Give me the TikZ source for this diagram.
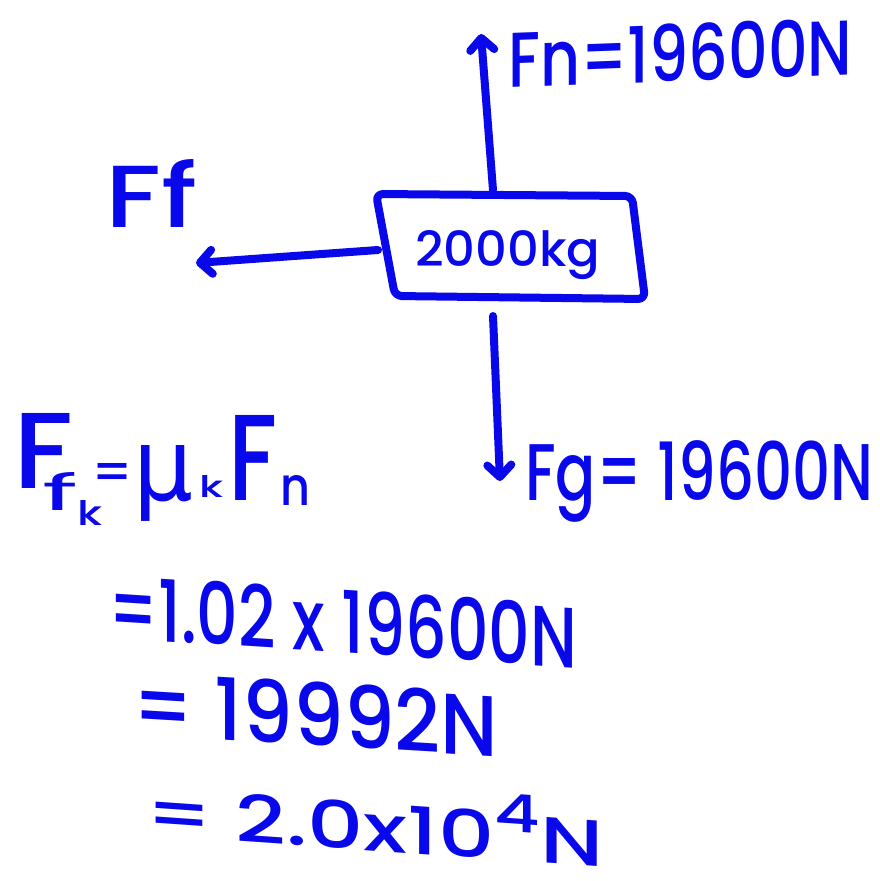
\documentclass[tikz,border=0pt]{standalone}
\usepackage{fontspec}
\setmainfont{Poppins}[BoldFont={* Medium}]
\newfontfamily\greekfont{DejaVu Sans}
\usepackage{graphicx}
\usetikzlibrary{arrows.meta}
\definecolor{ink}{RGB}{8,8,235}
\tikzset{
  pen/.style={draw=ink, line width=8pt, line cap=round, line join=round},
  force/.style={pen, -{Straight Barb[length=12pt,width=24pt,round]}},
  lbl/.style={text=ink, inner sep=0pt, anchor=base west, font=\bfseries},
}
\begin{document}
\begin{tikzpicture}[x=1pt,y=-1pt]
\useasboundingbox (0,0) rectangle (880,881);
\fill[white] (0,0) rectangle (880,881);
% box
\coordinate (tl) at (376,194);
\coordinate (tr) at (632,196);
\coordinate (br) at (645,299);
\coordinate (bl) at (395,296);
\draw[pen, rounded corners=7pt] (tl) -- (tr) -- (br) -- (bl) -- cycle;
\node[lbl] (mass) at (415,266) {\resizebox{185pt}{36pt}{2000kg}};
% force arrows
\coordinate (upS) at (493,190);
\coordinate (upE) at (481,34);
\coordinate (lfS) at (378,250);
\coordinate (lfE) at (196,263);
\coordinate (dnS) at (493,316);
\coordinate (dnE) at (500,481);
\draw[force] (upS) -- (upE);
\draw[force] (lfS) -- (lfE);
\draw[force] (dnS) -- (dnE);
% force labels
\node[lbl, yslant=0.037] (fn) at (508,88) {\resizebox{344pt}{58pt}{Fn=19600N}};
\node[lbl] (ff) at (105,227) {\resizebox{92pt}{68pt}{Ff}};
\node[lbl] (fg) at (525,500) {\resizebox{348pt}{60pt}{Fg= 19600N}};
% friction formula
\node[lbl] (fF) at (13,488) {\resizebox{60pt}{75pt}{F}};
\node[lbl] (fsub) at (42,510) {\resizebox{36pt}{38pt}{\mdseries f}};
\node[lbl] (ksub) at (77,525) {\resizebox{25pt}{25pt}{k}};
\node[lbl] (feq) at (91,489) {\resizebox{42pt}{26pt}{=}};
\node[lbl] (mu) at (133,500) {\resizebox{60pt}{55pt}{\greekfont\mdseries μ}};
\node[lbl] (muk) at (199,497) {\resizebox{24pt}{22pt}{k}};
\node[lbl] (fF2) at (228,500) {\resizebox{49pt}{85pt}{F}};
\node[lbl] (fn2) at (280,505) {\resizebox{30pt}{30pt}{n}};
% calculation lines
\node[lbl, yslant=-0.064] (l1) at (108,638) {\resizebox{469pt}{64pt}{=1.02 x 19600N}};
\node[lbl, yslant=-0.06] (l2) at (132,735) {\resizebox{366pt}{64pt}{= 19992N}};
\node[lbl, yslant=-0.07] (l3) at (145,835) {\resizebox{458pt}{67pt}{= 2.0x10\raisebox{0.45em}{\footnotesize 4}N}};
\end{tikzpicture}
\end{document}
